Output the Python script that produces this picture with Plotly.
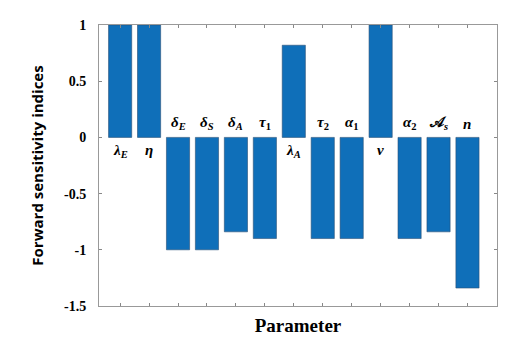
import plotly.graph_objects as go

# =====================================================
# Data
# =====================================================
params = [
    "<b><i>λ</i><sub><i>E</i></sub></b>",
    "<b><i>η</i></b>",
    "<b><i>δ</i><sub><i>E</i></sub></b>",
    "<b><i>δ</i><sub><i>S</i></sub></b>",
    "<b><i>δ</i><sub><i>A</i></sub></b>",
    "<b><i>τ</i><sub>1</sub></b>",
    "<b><i>λ</i><sub><i>A</i></sub></b>",
    "<b><i>τ</i><sub>2</sub></b>",
    "<b><i>α</i><sub>1</sub></b>",
    "<b><i>ν</i></b>",
    "<b><i>α</i><sub>2</sub></b>",
    "<b>𝒜<sub><i>s</i></sub></b>",
    "<b><i>n</i></b>",
]
indices = [1.0, 1.0, -1.0, -1.0, -0.84, -0.9, 0.82, -0.9, -0.9, 1.0, -0.9, -0.84, -1.34]
y_ticks = [1, 0.5, 0, -0.5, -1, -1.5]
y_tick_text = ["1", "0.5", "0", "-0.5", "-1", "-1.5"]

xpos = list(range(1, len(params) + 1))

# =====================================================
# Figure
# =====================================================
fig = go.Figure()

fig.add_trace(
    go.Bar(
        x=xpos,
        y=indices,
        width=0.8,
        marker=dict(color="#0f6fb9", line=dict(color="#2a4f75", width=0.6)),
        showlegend=False,
    )
)

# parameter labels next to the zero line
for x, v, lab in zip(xpos, indices, params):
    fig.add_annotation(
        x=x,
        y=0,
        text=lab,
        showarrow=False,
        yanchor="top" if v > 0 else "bottom",
        yshift=-3 if v > 0 else 3,
        font=dict(family="Liberation Serif", size=15, color="black"),
    )

# page body has an 8px margin, so the figure is drawn a bit smaller
fig.update_layout(
    width=498,
    height=329,
    autosize=False,
    plot_bgcolor="white",
    paper_bgcolor="white",
    margin=dict(l=91, r=9, t=17, b=31, pad=0),
    bargap=0.2,
)

fig.update_xaxes(
    automargin=False,
    range=[0.27, 14.02],
    tickvals=xpos,
    showticklabels=False,
    ticks="inside",
    ticklen=3,
    tickcolor="#888888",
    showgrid=False,
    zeroline=False,
    showline=True,
    linecolor="#999999",
    linewidth=1,
    mirror="ticks",
    title=dict(
        text="<b>Parameter</b>",
        font=dict(family="Liberation Serif", size=19, color="black"),
        standoff=12,
    ),
)

fig.update_yaxes(
    automargin=False,
    range=[-1.5, 1],
    tickvals=y_ticks,
    ticktext=[f"<b>{t}</b>" for t in y_tick_text],
    ticks="inside",
    ticklen=3,
    tickcolor="#888888",
    ticklabelstandoff=9,
    tickfont=dict(family="Liberation Serif", size=14, color="black"),
    showgrid=False,
    zeroline=False,
    showline=True,
    linecolor="#999999",
    linewidth=1,
    mirror="ticks",
    title=dict(
        text="<b>Forward sensitivity indices</b>",
        font=dict(family="Open Sans", size=15, color="black"),
        standoff=16,
    ),
)

fig.write_html("out.html")
